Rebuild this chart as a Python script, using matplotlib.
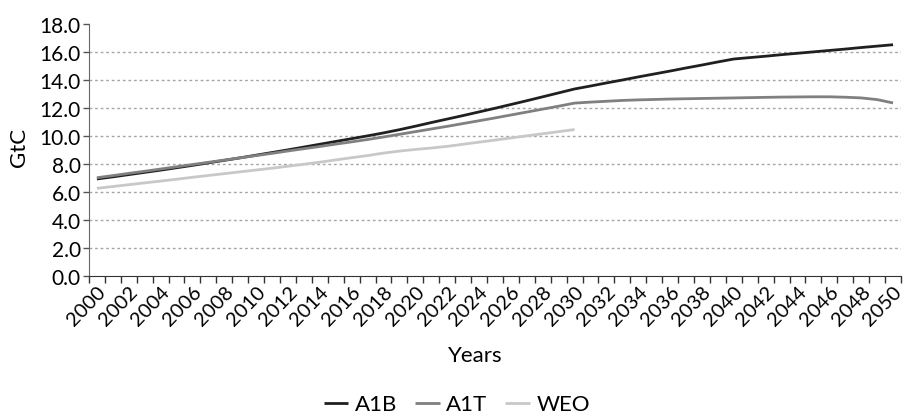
import numpy as np
import matplotlib

matplotlib.use("Agg")
import matplotlib.pyplot as plt  # noqa: E402

plt.rcParams["font.family"] = ["Lato", "DejaVu Sans"]

years = list(range(2000, 2051))

a1b = [6.93, 7.08, 7.24, 7.40, 7.56, 7.73, 7.90, 8.08, 8.26, 8.44,
       8.63, 8.82, 9.01, 9.21, 9.41, 9.61, 9.81, 10.01, 10.22, 10.45,
       10.70, 10.96, 11.21, 11.46, 11.72, 11.98, 12.25, 12.52, 12.80, 13.08,
       13.36, 13.57, 13.79, 14.00, 14.22, 14.43, 14.64, 14.86, 15.07, 15.29,
       15.50, 15.60, 15.70, 15.81, 15.91, 16.01, 16.11, 16.21, 16.32, 16.42,
       16.52]

a1t = [7.02, 7.17, 7.33, 7.48, 7.64, 7.80, 7.96, 8.12, 8.28, 8.44,
       8.60, 8.76, 8.93, 9.09, 9.25, 9.42, 9.58, 9.75, 9.93, 10.12,
       10.31, 10.50, 10.69, 10.89, 11.09, 11.29, 11.50, 11.71, 11.92, 12.13,
       12.35, 12.42, 12.48, 12.54, 12.58, 12.61, 12.64, 12.66, 12.68, 12.70,
       12.72, 12.74, 12.76, 12.78, 12.79, 12.80, 12.80, 12.77, 12.72, 12.60,
       12.36]

weo = [6.26, 6.39, 6.52, 6.65, 6.78, 6.91, 7.05, 7.18, 7.31, 7.44,
       7.57, 7.70, 7.84, 7.98, 8.13, 8.29, 8.45, 8.60, 8.78, 8.92,
       9.04, 9.14, 9.26, 9.41, 9.56, 9.71, 9.86, 10.01, 10.16, 10.31,
       10.46]

y_ticks = [0, 2, 4, 6, 8, 10, 12, 14, 16, 18]

fig = plt.figure(figsize=(9.05, 4.14), dpi=100)
ax = fig.add_axes([0.0983, 0.331, 0.8973, 0.6086])

x = np.arange(len(years))
ax.plot(x, a1b, color="#231f20", lw=2.0, label="A1B", solid_capstyle="butt")
ax.plot(x, a1t, color="#808080", lw=2.0, label="A1T", solid_capstyle="butt")
ax.plot(x[:len(weo)], weo, color="#c8c8c8", lw=2.0, label="WEO",
        solid_capstyle="butt")

ax.set_xlim(-0.5, len(years) - 0.5)
ax.set_ylim(0, 18)

ax.set_yticks(y_ticks)
ax.set_yticklabels([f"{v:.1f}" for v in y_ticks], fontsize=15)
for v in y_ticks[1:-1]:
    ax.axhline(v, color="#a6a6a6", lw=1.0, ls=(0, (2, 2)), zorder=0)

ax.set_xticks(x[::2])
ax.set_xticklabels([str(y) for y in years[::2]], rotation=46, ha="right",
                   rotation_mode="anchor", fontsize=14.5)
ax.set_xticks(np.arange(len(years) + 1) - 0.5, minor=True)
ax.tick_params(axis="x", which="major", length=0, pad=5)
ax.tick_params(axis="x", which="minor", length=5, width=1, color="#333333")
ax.tick_params(axis="y", length=4, width=1, color="#555555", pad=2)

for s in ("top", "right"):
    ax.spines[s].set_visible(False)
ax.spines["left"].set_color("#666666")
ax.spines["bottom"].set_color("#333333")

fig.text(0.021, 0.645, "GtC", rotation=90, fontsize=16, ha="center",
         va="center")
fig.text(0.525, 0.1256, "Years", fontsize=16, ha="center", va="baseline")

fig.legend(loc="lower center", bbox_to_anchor=(0.505, -0.03), ncol=3,
           frameon=False, fontsize=16, handlelength=1.1, handletextpad=0.3,
           columnspacing=0.8, borderpad=0)

fig.savefig("out.png", dpi=100)
